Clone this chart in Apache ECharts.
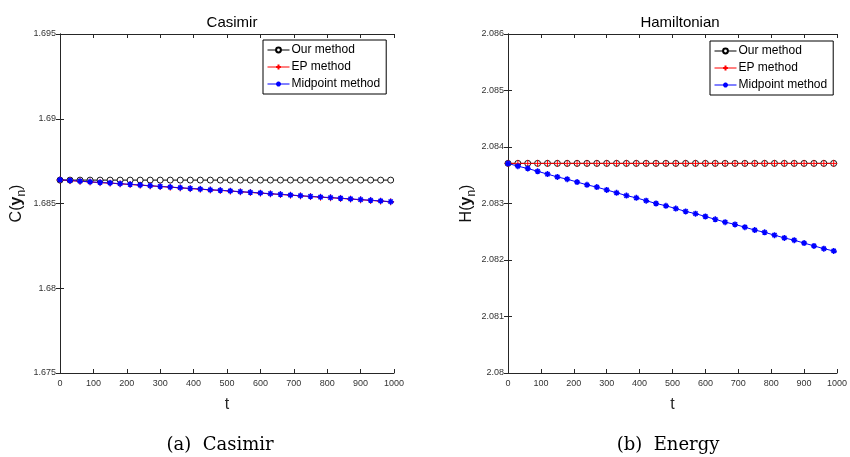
<!DOCTYPE html>
<html>
<head>
<meta charset="utf-8">
<script src="https://cdn.jsdelivr.net/npm/echarts@6/dist/echarts.min.js"></script>
<style>
html,body{margin:0;padding:0;background:#fff;}
#chart{width:850px;height:457px;}
</style>
</head>
<body>
<div id="chart"></div>
<script>
// ---- data ----
var tValues = [0,30,60,90,120,150,180,210,240,270,300,330,360,390,420,450,480,510,540,570,600,630,660,690,720,750,780,810,840,870,900,930,960,990,1000];
var xTicks = [0,100,200,300,400,500,600,700,800,900,1000];
var seriesNames = ['Our method','EP method','Midpoint method'];

var casimirOur = [1.68638,1.68638,1.68638,1.68638,1.68638,1.68638,1.68638,1.68638,1.68638,1.68638,1.68638,1.68638,1.68638,1.68638,1.68638,1.68638,1.68638,1.68638,1.68638,1.68638,1.68638,1.68638,1.68638,1.68638,1.68638,1.68638,1.68638,1.68638,1.68638,1.68638,1.68638,1.68638,1.68638,1.68638,1.68638];
var casimirEP = [1.68639,1.68635,1.68631,1.68627,1.68623,1.68620,1.68616,1.68612,1.68608,1.68604,1.68600,1.68596,1.68592,1.68588,1.68584,1.68580,1.68577,1.68573,1.68569,1.68565,1.68561,1.68557,1.68553,1.68549,1.68545,1.68541,1.68537,1.68534,1.68530,1.68526,1.68522,1.68518,1.68514,1.68510,1.68508];
var casimirMid = [1.68640,1.68636,1.68632,1.68628,1.68624,1.68621,1.68617,1.68613,1.68609,1.68605,1.68601,1.68597,1.68593,1.68589,1.68585,1.68581,1.68578,1.68574,1.68570,1.68566,1.68562,1.68558,1.68554,1.68550,1.68546,1.68542,1.68538,1.68535,1.68531,1.68527,1.68523,1.68519,1.68515,1.68511,1.68510];

var hamOur = [2.08371,2.08371,2.08371,2.08371,2.08371,2.08371,2.08371,2.08371,2.08371,2.08371,2.08371,2.08371,2.08371,2.08371,2.08371,2.08371,2.08371,2.08371,2.08371,2.08371,2.08371,2.08371,2.08371,2.08371,2.08371,2.08371,2.08371,2.08371,2.08371,2.08371,2.08371,2.08371,2.08371,2.08371,2.08371];
var hamEP = [2.08371,2.08371,2.08371,2.08371,2.08371,2.08371,2.08371,2.08371,2.08371,2.08371,2.08371,2.08371,2.08371,2.08371,2.08371,2.08371,2.08371,2.08371,2.08371,2.08371,2.08371,2.08371,2.08371,2.08371,2.08371,2.08371,2.08371,2.08371,2.08371,2.08371,2.08371,2.08371,2.08371,2.08371,2.08371];
var hamMid = [2.08371,2.08366,2.08362,2.08357,2.08352,2.08347,2.08343,2.08338,2.08333,2.08329,2.08324,2.08319,2.08314,2.08310,2.08305,2.08300,2.08296,2.08291,2.08286,2.08282,2.08277,2.08272,2.08267,2.08263,2.08258,2.08253,2.08249,2.08244,2.08239,2.08235,2.08230,2.08225,2.08220,2.08216,2.08214];

var casimirAxis = {min:1.675, max:1.695, interval:0.005};
var hamAxis = {min:2.080, max:2.086, interval:0.001};

// ---- build ----
var plusPath = 'path://M5,0L5,10M0,5L10,5';
var starPath = 'path://M5,0L5,10M0,5L10,5M1.5,1.5L8.5,8.5M8.5,1.5L1.5,8.5';
var AX = '#262626';

function pairs(vals){
  return tValues.map(function(t,i){
    var p = {value:[t, vals[i]]};
    if (t === 1000) p.symbol = 'none';
    return p;
  });
}

function makeSeries(idx, our, ep, mid){
  return [
    {name:seriesNames[0], type:'line', xAxisIndex:idx*2, yAxisIndex:idx*2, data:pairs(our),
     symbol:'circle', symbolSize:6, showAllSymbol:true, animation:false,
     lineStyle:{color:'#000', width:1}, itemStyle:{color:'#fff', borderColor:'#000', borderWidth:0.9}},
    {name:seriesNames[1], type:'line', xAxisIndex:idx*2, yAxisIndex:idx*2, data:pairs(ep),
     symbol:plusPath, symbolSize:7, showAllSymbol:true, animation:false,
     lineStyle:{color:'#ff0000', width:1}, itemStyle:{color:'#ff0000', borderColor:'#ff0000', borderWidth:1}},
    {name:seriesNames[2], type:'line', xAxisIndex:idx*2, yAxisIndex:idx*2, data:pairs(mid),
     symbol:starPath, symbolSize:6, showAllSymbol:true, animation:false,
     lineStyle:{color:'#0000ff', width:1}, itemStyle:{color:'#0000ff', borderColor:'#0000ff', borderWidth:1.5}}
  ];
}

function xAxes(gi){
  return [
    {type:'value', gridIndex:gi, min:0, max:1000, interval:100, position:'bottom',
     name:'t', nameLocation:'middle', nameGap:24,
     nameTextStyle:{fontFamily:'Liberation Sans', fontSize:16, color:AX},
     axisLine:{lineStyle:{color:AX, width:1}},
     axisTick:{inside:true, length:4, lineStyle:{color:AX}},
     axisLabel:{fontFamily:'Liberation Sans', fontSize:9, color:'#333', margin:6,
       formatter:function(v){return xTicks.indexOf(v)>=0 ? String(v) : '';}},
     splitLine:{show:false}},
    {type:'value', gridIndex:gi, min:0, max:1000, interval:100, position:'top',
     axisLine:{lineStyle:{color:AX, width:1}},
     axisTick:{inside:true, length:4, lineStyle:{color:AX}},
     axisLabel:{show:false}, splitLine:{show:false}}
  ];
}

function yAxes(gi, ax, letter, gap){
  return [
    {type:'value', gridIndex:gi, min:ax.min, max:ax.max, interval:ax.interval, position:'left',
     name:'{r|'+letter+'(}{b|y}{s|n}{r|)}', nameLocation:'middle', nameGap:gap, nameRotate:90,
     nameTextStyle:{rich:{
       r:{fontFamily:'Liberation Sans', fontSize:16, color:'#111'},
       b:{fontFamily:'Liberation Sans', fontSize:16, fontWeight:'bold', color:'#111'},
       s:{fontFamily:'Liberation Sans', fontSize:12, color:'#111', padding:[10,0,0,0]}
     }},
     axisLine:{lineStyle:{color:AX, width:1}},
     axisTick:{inside:true, length:4, lineStyle:{color:AX}},
     axisLabel:{fontFamily:'Liberation Sans', fontSize:9, color:'#333', margin:4},
     splitLine:{show:false}},
    {type:'value', gridIndex:gi, min:ax.min, max:ax.max, interval:ax.interval, position:'right',
     axisLine:{lineStyle:{color:AX, width:1}},
     axisTick:{inside:true, length:4, lineStyle:{color:AX}},
     axisLabel:{show:false}, splitLine:{show:false}}
  ];
}

function legend(left, top){
  return {left:left, top:top, orient:'vertical', data:seriesNames,
    backgroundColor:'#fff', borderColor:'#000', borderWidth:1, borderRadius:0,
    padding:[4,6,4,4], itemGap:5, itemWidth:22, itemHeight:6, selectedMode:false,
    lineStyle:{width:1},
    textStyle:{fontFamily:'Liberation Sans', fontSize:12, color:'#000', padding:[0,0,0,-3]}};
}

var option = {
  backgroundColor:'#fff',
  animation:false,
  title:[
    {text:'Casimir', left:227, top:10, textAlign:'center',
     textStyle:{fontFamily:'Liberation Sans', fontSize:15, fontWeight:'normal', color:'#000'}},
    {text:'Hamiltonian', left:675, top:10, textAlign:'center',
     textStyle:{fontFamily:'Liberation Sans', fontSize:15, fontWeight:'normal', color:'#000'}},
    {text:'(a)  Casimir', left:215, top:431, textAlign:'center',
     textStyle:{fontFamily:'DejaVu Serif', fontSize:18, fontWeight:'normal', color:'#000'}},
    {text:'(b)  Energy', left:663, top:431, textAlign:'center',
     textStyle:{fontFamily:'DejaVu Serif', fontSize:18, fontWeight:'normal', color:'#000'}}
  ],
  grid:[
    {left:60, right:456, top:34, bottom:84},
    {left:508, right:8, top:34, bottom:84}
  ],
  legend:[legend(263,40), legend(710,41)],
  xAxis: xAxes(0).concat(xAxes(1)),
  yAxis: yAxes(0, casimirAxis, 'C', 32).concat(yAxes(1, hamAxis, 'H', 18)),
  series: makeSeries(0, casimirOur, casimirEP, casimirMid).concat(makeSeries(1, hamOur, hamEP, hamMid))
};

var chart = echarts.init(document.getElementById('chart'), null, {renderer:'canvas'});
chart.setOption(option);
</script>
</body>
</html>
